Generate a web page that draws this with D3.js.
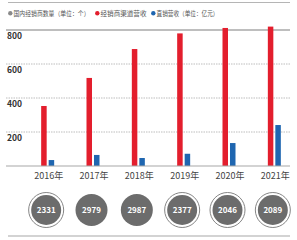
<!DOCTYPE html>
<html>
<head>
<meta charset="utf-8">
<script src="https://cdn.jsdelivr.net/npm/d3@7"></script>
<style>
	body { margin: 0; background: #fff; }
	text { font-family: "Noto Sans CJK SC", "Noto Sans", sans-serif; }
</style>
</head>
<body>
<svg id="chart" width="297" height="240"></svg>
<script>
// data
var years = ['2016年', '2017年', '2018年', '2019年', '2020年', '2021年']
var channelRevenue = [353, 518, 688, 780, 812, 820]   // 经销商渠道营收（亿元）
var directRevenue = [35, 65, 47, 72, 135, 241]        // 直销营收（亿元）
var dealerCount = [2331, 2979, 2987, 2377, 2046, 2089] // 国内经销商数量（个）
var ringedYears = ['2016年', '2019年', '2020年', '2021年']
var yTicks = [200, 400, 600, 800]
var legendItems = [
	{ label: '国内经销商数量（单位：个）', color: '#8a8a8a' },
	{ label: '经销商渠道营收', color: '#e31e2d' },
	{ label: '直销营收（单位：亿元）', color: '#1f66b0' }
]

var svg = d3.select('#chart')

var x = d3.scaleBand().domain(years).range([25, 297])
var y = d3.scaleLinear().domain([0, 800]).range([166, 30])
var cx = d => x(d) + x.bandwidth() / 2

// top rule
svg.append('line')
	.attr('x1', 8).attr('x2', 290).attr('y1', 2.5).attr('y2', 2.5)
	.attr('stroke', '#b5b5b5').attr('stroke-width', 1)

// legend
var lx = [8, 95, 151]
var lw = [76, 46, 62]
var lg = svg.append('g')
legendItems.forEach(function (item, i) {
	lg.append('circle')
		.attr('cx', lx[i] + 2.3).attr('cy', 13.3).attr('r', 2.2)
		.attr('fill', item.color)
	lg.append('text')
		.attr('x', lx[i] + 5.5).attr('y', 15.8)
		.attr('font-size', 6.6)
		.attr('textLength', lw[i])
		.attr('lengthAdjust', 'spacingAndGlyphs')
		.attr('fill', '#555')
		.text(item.label)
})

// gridlines
svg.append('g')
	.selectAll('line')
	.data(yTicks)
	.join('line')
	.attr('x1', 6).attr('x2', 290)
	.attr('y1', d => y(d)).attr('y2', d => y(d))
	.attr('stroke', d => d === 800 ? '#a8a8a8' : '#a0a0a0')
	.attr('stroke-width', d => d === 800 ? 1.6 : 0.7)
	.attr('stroke-dasharray', d => d === 800 ? null : '1.5,1')

svg.append('g')
	.selectAll('text')
	.data(yTicks)
	.join('text')
	.attr('x', 7)
	.attr('y', d => y(d) + 8.5)
	.attr('font-size', 8.5)
	.attr('font-weight', 'bold')
	.attr('fill', '#333')
	.text(d => d)

// bars
svg.append('g')
	.selectAll('rect')
	.data(years)
	.join('rect')
	.attr('x', d => cx(d) - 6.5)
	.attr('width', 5.5)
	.attr('y', (d, i) => y(channelRevenue[i]))
	.attr('height', (d, i) => y(0) - y(channelRevenue[i]))
	.attr('fill', '#e31e2d')

svg.append('g')
	.selectAll('rect')
	.data(years)
	.join('rect')
	.attr('x', d => cx(d) + 1)
	.attr('width', 5.5)
	.attr('y', (d, i) => y(directRevenue[i]))
	.attr('height', (d, i) => y(0) - y(directRevenue[i]))
	.attr('fill', '#1f66b0')

// baseline
svg.append('line')
	.attr('x1', 6).attr('x2', 290).attr('y1', y(0)).attr('y2', y(0))
	.attr('stroke', '#a8a8a8').attr('stroke-width', 1.2)

// year labels
svg.append('g')
	.selectAll('text')
	.data(years)
	.join('text')
	.attr('x', d => cx(d) + 1)
	.attr('y', 179)
	.attr('text-anchor', 'middle')
	.attr('font-size', 9)
	.attr('fill', '#444')
	.text(d => d)

// dealer count circles
var cg = svg.append('g')
	.selectAll('g')
	.data(years)
	.join('g')
	.attr('transform', d => `translate(${cx(d) - 1.5},210)`)

cg.filter(d => ringedYears.includes(d))
	.append('circle')
	.attr('r', 17.5)
	.attr('fill', '#fff')
	.attr('stroke', '#777')
	.attr('stroke-width', 0.9)

cg.append('circle')
	.attr('r', d => ringedYears.includes(d) ? 15 : 16)
	.attr('fill', '#6c6c6c')

cg.append('text')
	.attr('y', 3)
	.attr('text-anchor', 'middle')
	.attr('font-size', 8)
	.attr('font-weight', 'bold')
	.attr('fill', '#fff')
	.text((d, i) => dealerCount[i])

// bottom rule
svg.append('line')
	.attr('x1', 8).attr('x2', 290).attr('y1', 236).attr('y2', 236)
	.attr('stroke', '#a8a8a8').attr('stroke-width', 1.2)
</script>
</body>
</html>
